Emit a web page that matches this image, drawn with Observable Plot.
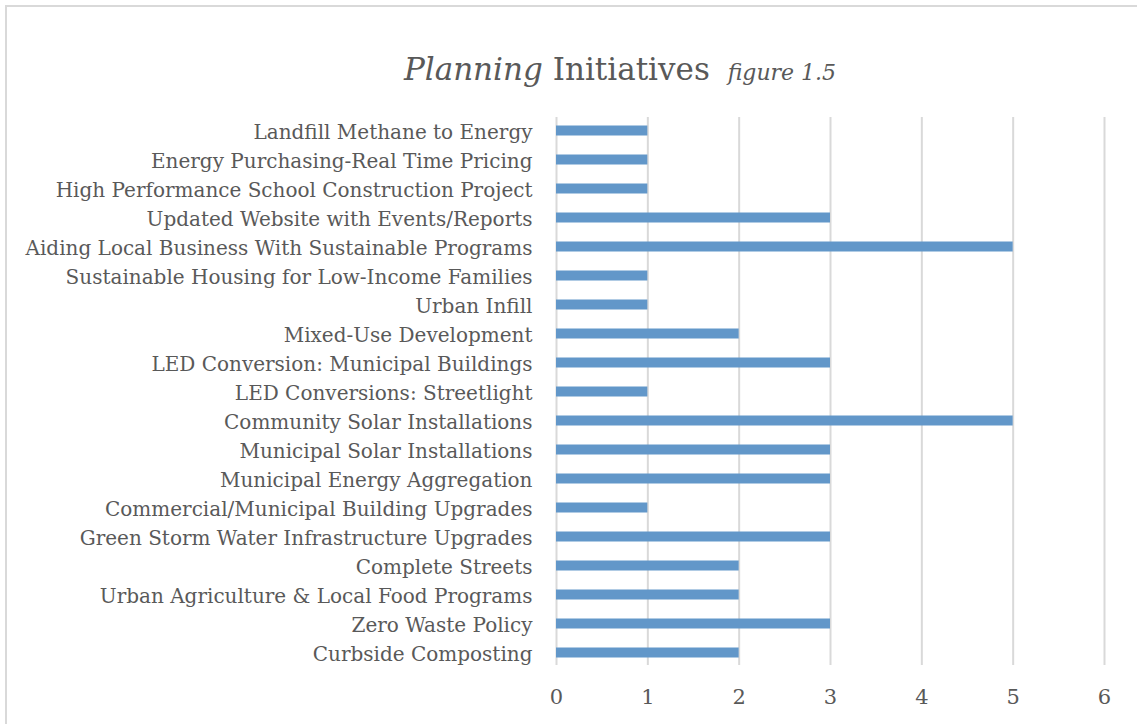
<!DOCTYPE html>
<html>
<head>
<meta charset="utf-8">
<script src="https://cdn.jsdelivr.net/npm/d3@7"></script>
<script src="https://cdn.jsdelivr.net/npm/@observablehq/plot@0.6"></script>
<style>
  html, body { margin: 0; padding: 0; background: #fff; overflow: hidden; }
  #wrap { position: relative; width: 1137px; height: 724px; }
  #frame { position: absolute; left: 5px; top: 5px; width: 1200px; height: 800px;
           border-top: 2px solid #d9d9d9; border-left: 2px solid #d9d9d9; }
  #title { position: absolute; left: 0; width: 1240px; top: 51px; text-align: center;
           font-family: "DejaVu Serif", serif; color: #595959; font-size: 31px; white-space: nowrap; }
  #title .sub { font-size: 22px; font-style: italic; margin-left: 8px; }
  #chart { position: absolute; left: 0; top: 0; }
</style>
</head>
<body>
<div id="wrap">
  <div id="frame"></div>
  <div id="title"><i>Planning</i> Initiatives <span class="sub">figure 1.5</span></div>
  <div id="chart"></div>
</div>
<script>
const categories = [
  "Landfill Methane to Energy",
  "Energy Purchasing-Real Time Pricing",
  "High Performance School Construction Project",
  "Updated Website with Events/Reports",
  "Aiding Local Business With Sustainable Programs",
  "Sustainable Housing for Low-Income Families",
  "Urban Infill",
  "Mixed-Use Development",
  "LED Conversion: Municipal Buildings",
  "LED Conversions: Streetlight",
  "Community Solar Installations",
  "Municipal Solar Installations",
  "Municipal Energy Aggregation",
  "Commercial/Municipal Building Upgrades",
  "Green Storm Water Infrastructure Upgrades",
  "Complete Streets",
  "Urban Agriculture & Local Food Programs",
  "Zero Waste Policy",
  "Curbside Composting"
];
const values = [1, 1, 1, 3, 5, 1, 1, 2, 3, 1, 5, 3, 3, 1, 3, 2, 2, 3, 2];
const xTicks = [0, 1, 2, 3, 4, 5, 6];

const data = categories.map((c, i) => ({category: c, value: values[i]}));

const chart = Plot.plot({
  width: 1137,
  height: 724,
  marginLeft: 556,
  marginRight: 33,
  marginTop: 115.5,
  marginBottom: 57.5,
  style: {fontFamily: "DejaVu Serif, serif", color: "#595959", background: "transparent"},
  x: {domain: [0, 6]},
  y: {domain: categories, padding: 0},
  marks: [
    Plot.ruleX(xTicks, {x: d => d, stroke: "#d9d9d9", strokeWidth: 2, insetTop: 1.5, insetBottom: 1.5}),
    Plot.barX(data, {x: "value", y: "category", fill: "#6297c9", insetTop: 9.5, insetBottom: 9.5}),
    Plot.axisY({tickSize: 0, tickPadding: 24, dy: 2, fontSize: 20, fill: "#595959", label: null}),
    Plot.axisX(xTicks, {tickSize: 0, tickPadding: 22, fontSize: 21, fill: "#595959", label: null, tickFormat: d => String(d)})
  ]
});
document.getElementById("chart").appendChild(chart);
</script>
</body>
</html>
